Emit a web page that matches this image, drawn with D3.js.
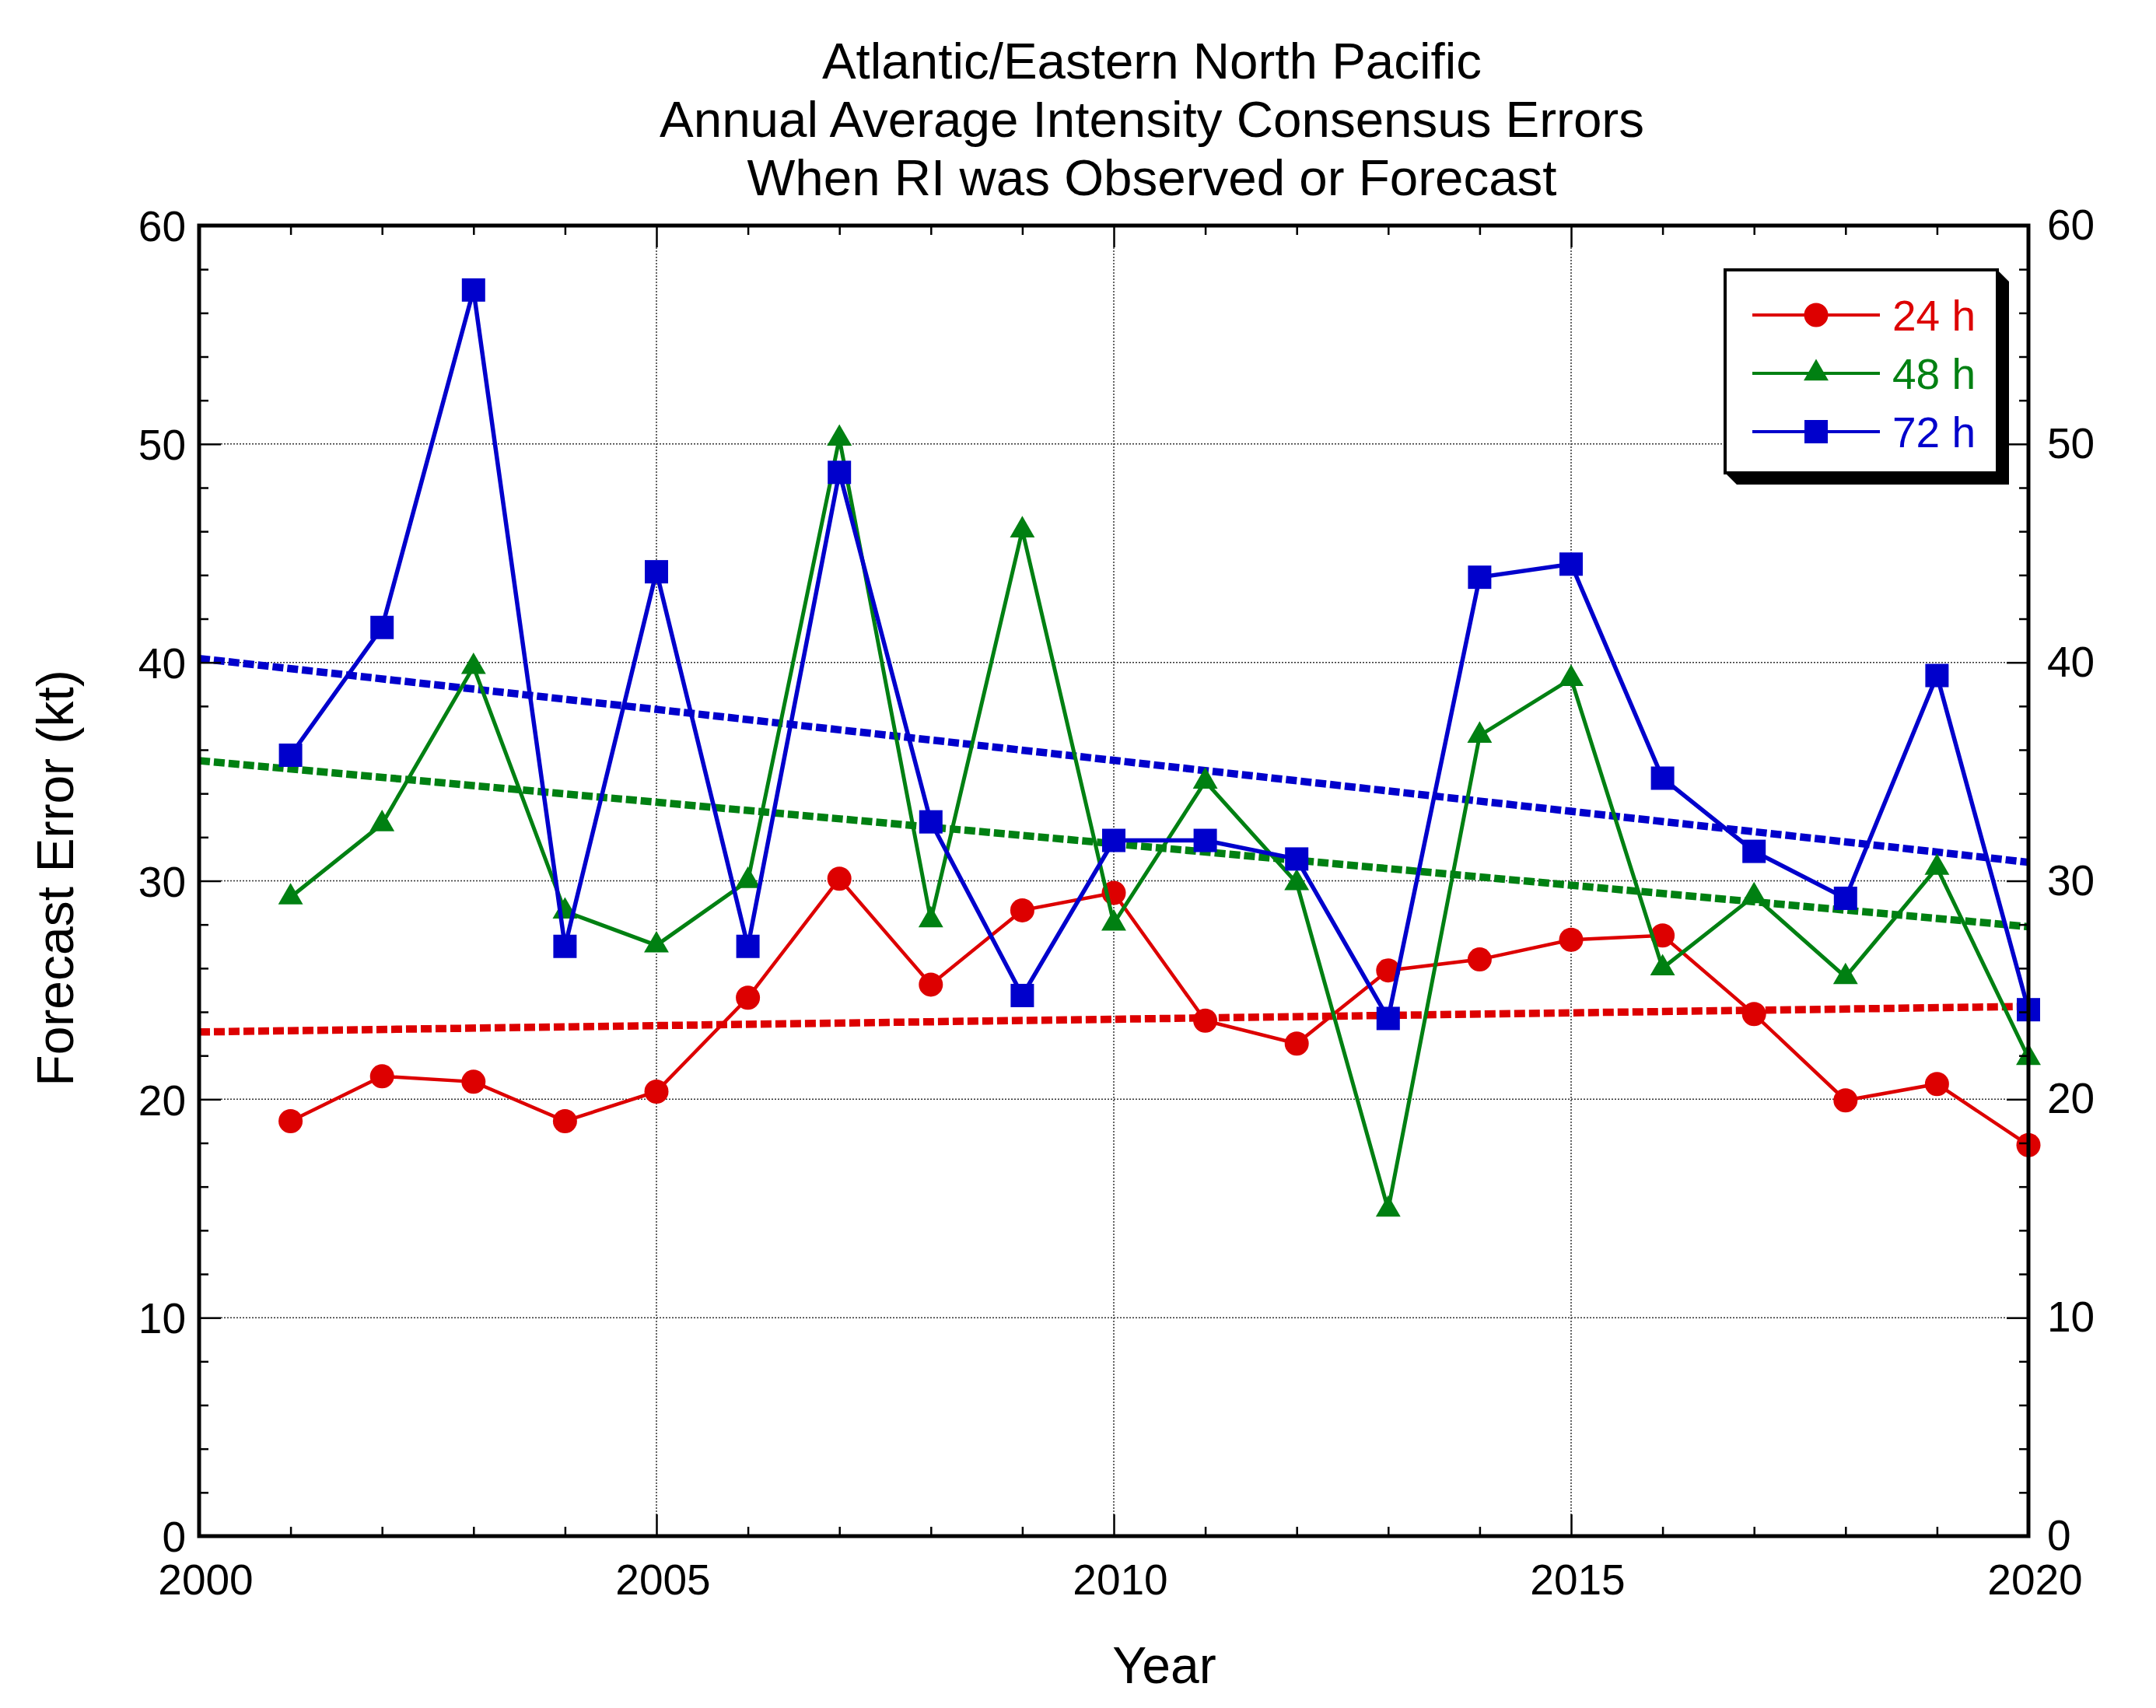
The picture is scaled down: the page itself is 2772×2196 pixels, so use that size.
<!DOCTYPE html>
<html>
<head>
<meta charset="utf-8">
<script src="https://cdn.jsdelivr.net/npm/d3@7"></script>
<style>
  html, body { margin: 0; padding: 0; background: #fff; }
  svg { display: block; font-family: "Liberation Sans", Arial, Helvetica, sans-serif; }
</style>
</head>
<body>
<svg id="chart" width="2772" height="2196"></svg>
<script>
// ---------- data ----------
const years = [2001,2002,2003,2004,2005,2006,2007,2008,2009,2010,2011,2012,2013,2014,2015,2016,2017,2018,2019,2020];
const err24 = [19.0,21.05,20.8,19.0,20.35,24.65,30.1,25.25,28.65,29.45,23.6,22.55,25.9,26.4,27.3,27.5,23.9,19.95,20.7,17.9];
const err48 = [29.25,32.6,39.8,28.6,27.05,30.0,50.25,28.2,46.05,28.05,34.55,29.9,14.95,36.65,39.25,26.0,29.3,25.6,30.6,21.9];
const err72 = [35.75,41.6,57.05,27.0,44.15,27.0,48.7,32.7,24.75,31.85,31.85,31.0,23.7,43.9,44.5,34.7,31.35,29.2,39.4,24.1];
const seriesNames = ["24 h","48 h","72 h"];
const seriesColors = ["#dd0000","#008012","#0000cc"];
const seriesSymbols = ["circle","triangle","square"];
// trend lines: [value at 2000, value at 2020]
const trend24 = [23.08, 24.25];
const trend48 = [35.5, 27.9];
const trend72 = [40.18, 30.85];
const trendYears = [2000, 2020];
const titleLines = ["Atlantic/Eastern North Pacific","Annual Average Intensity Consensus Errors","When RI was Observed or Forecast"];
const xMajorTicks = [2000,2005,2010,2015,2020];
const yMajorTicks = [0,10,20,30,40,50,60];
const xLabel = "Year";
const yLabel = "Forecast Error (kt)";

// ---------- layout ----------
const L = 256, R = 2608, T = 290, B = 1975;
const svg = d3.select("#chart");
const x = d3.scaleLinear().domain([2000,2020]).range([L,R]);
const y = d3.scaleLinear().domain([0,60]).range([B,T]);

const xMinor = d3.range(2000, 2021, 1);
const yMinor = d3.range(0, 61, 2);

// gridlines
const grid = svg.append("g").attr("stroke","#333").attr("stroke-width",1.5).attr("stroke-dasharray","2,2");
xMajorTicks.filter(v => v > 2000 && v < 2020).forEach(v => {
  grid.append("line").attr("x1",x(v)).attr("x2",x(v)).attr("y1",T+28).attr("y2",B-28);
});
yMajorTicks.filter(v => v > 0 && v < 60).forEach(v => {
  grid.append("line").attr("x1",L+28).attr("x2",R-28).attr("y1",y(v)).attr("y2",y(v));
});

// trend lines
const trends = [trend24, trend48, trend72];
trends.forEach((t,i) => {
  svg.append("path")
    .datum(trendYears.map((yr,j) => [yr, t[j]]))
    .attr("d", d3.line().x(d => x(d[0])).y(d => y(d[1])))
    .attr("fill","none")
    .attr("stroke", seriesColors[i])
    .attr("stroke-width", 9.5)
    .attr("stroke-dasharray","14,5");
});

// symbol helper
function symbolPath(kind) {
  if (kind === "circle") return d3.symbol().type(d3.symbolCircle).size(Math.PI*15.5*15.5)();
  if (kind === "square") return d3.symbol().type(d3.symbolSquare).size(30*30)();
  return d3.symbol().type(d3.symbolTriangle).size(440)();
}

// data series
const allSeries = [err24, err48, err72];
const lineWidths = [4.5, 5, 5.5];
allSeries.forEach((vals,i) => {
  const pts = years.map((yr,j) => [yr, vals[j]]);
  const g = svg.append("g");
  g.append("path").datum(pts)
    .attr("d", d3.line().x(d => x(d[0])).y(d => y(d[1])))
    .attr("fill","none").attr("stroke", seriesColors[i]).attr("stroke-width", lineWidths[i])
    .attr("stroke-linejoin","miter");
  g.selectAll("path.m").data(pts).join("path").attr("class","m")
    .attr("d", symbolPath(seriesSymbols[i]))
    .attr("transform", d => `translate(${x(d[0])},${y(d[1])})`)
    .attr("fill", seriesColors[i]);
});

// axes
const tickFont = 55;
function styleAxis(g) {
  g.select(".domain").remove();
  g.selectAll(".tick line").attr("stroke","#000").attr("stroke-width",2.5);
  g.selectAll(".tick text").attr("fill","#000").attr("font-size",tickFont)
    .attr("font-family",'"Liberation Sans", Arial, sans-serif');
}
// left
svg.append("g").attr("transform",`translate(${L},0)`)
  .call(d3.axisLeft(y).tickValues(yMajorTicks).tickSizeInner(-28).tickSizeOuter(0).tickPadding(17).tickFormat(d3.format("d")))
  .call(styleAxis).call(g => g.selectAll(".tick text").attr("dy","0.36em"));
svg.append("g").attr("transform",`translate(${L},0)`)
  .call(d3.axisLeft(y).tickValues(yMinor.filter(v => v % 10 !== 0)).tickSizeInner(-12).tickSizeOuter(0).tickFormat(""))
  .call(styleAxis);
// right
svg.append("g").attr("transform",`translate(${R},0)`)
  .call(d3.axisRight(y).tickValues(yMajorTicks).tickSizeInner(-28).tickSizeOuter(0).tickPadding(24).tickFormat(d3.format("d")))
  .call(styleAxis).call(g => g.selectAll(".tick text").attr("dy","0.32em"));
svg.append("g").attr("transform",`translate(${R},0)`)
  .call(d3.axisRight(y).tickValues(yMinor.filter(v => v % 10 !== 0)).tickSizeInner(-12).tickSizeOuter(0).tickFormat(""))
  .call(styleAxis);
// bottom
svg.append("g").attr("transform",`translate(0,${B})`)
  .call(d3.axisBottom(x).tickValues(xMajorTicks).tickSizeInner(-28).tickSizeOuter(0).tickPadding(36).tickFormat(d3.format("d")))
  .call(styleAxis).call(g => g.selectAll(".tick text").attr("dx", 8));
svg.append("g").attr("transform",`translate(0,${B})`)
  .call(d3.axisBottom(x).tickValues(xMinor.filter(v => v % 5 !== 0)).tickSizeInner(-12).tickSizeOuter(0).tickFormat(""))
  .call(styleAxis);
// top
svg.append("g").attr("transform",`translate(0,${T})`)
  .call(d3.axisTop(x).tickValues(xMajorTicks).tickSizeInner(-28).tickSizeOuter(0).tickFormat(""))
  .call(styleAxis);
svg.append("g").attr("transform",`translate(0,${T})`)
  .call(d3.axisTop(x).tickValues(xMinor.filter(v => v % 5 !== 0)).tickSizeInner(-12).tickSizeOuter(0).tickFormat(""))
  .call(styleAxis);

// frame
svg.append("rect").attr("x",L).attr("y",T).attr("width",R-L).attr("height",B-T)
  .attr("fill","none").attr("stroke","#000").attr("stroke-width",5);

// title
svg.append("g").selectAll("text").data(titleLines).join("text")
  .attr("x",1481).attr("y",(d,i) => 101 + i*75)
  .attr("text-anchor","middle").attr("font-size",65.5).attr("fill","#000")
  .text(d => d);

// axis titles
svg.append("text").attr("x",1497).attr("y",2164).attr("text-anchor","middle")
  .attr("font-size",66).attr("fill","#000").text(xLabel);
svg.append("text").attr("transform","translate(94,1129) rotate(-90)").attr("text-anchor","middle")
  .attr("font-size",66).attr("fill","#000").text(yLabel);

// legend
const lx0 = 2218, ly0 = 347, lx1 = 2568, ly1 = 608, sh = 15;
svg.append("polygon")
  .attr("points", [[lx1,ly0],[lx1+sh,ly0+sh],[lx1+sh,ly1+sh],[lx0+sh,ly1+sh],[lx0,ly1],[lx1,ly1]].map(p => p.join(",")).join(" "))
  .attr("fill","#000");
svg.append("rect").attr("x",lx0).attr("y",ly0).attr("width",lx1-lx0).attr("height",ly1-ly0)
  .attr("fill","#fff").attr("stroke","#000").attr("stroke-width",4);
seriesNames.forEach((name,i) => {
  const cy = 405 + i*75;
  svg.append("line").attr("x1",2253).attr("x2",2417).attr("y1",cy).attr("y2",cy)
    .attr("stroke",seriesColors[i]).attr("stroke-width",4);
  svg.append("path").attr("d",symbolPath(seriesSymbols[i]))
    .attr("transform",`translate(2335,${cy})`).attr("fill",seriesColors[i]);
  svg.append("text").attr("x",2433).attr("y",cy+20).attr("font-size",55)
    .attr("fill",seriesColors[i]).text(name);
});
</script>
</body>
</html>
